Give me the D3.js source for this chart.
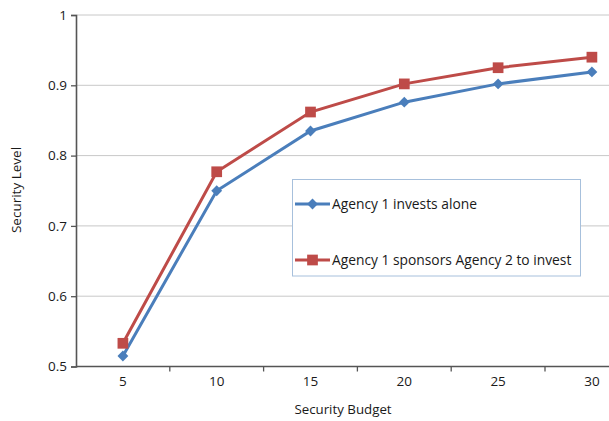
<!DOCTYPE html>
<html><head><meta charset="utf-8">
<script src="https://cdn.jsdelivr.net/npm/d3@7"></script>
<style>body{margin:0;background:#fff}svg{display:block;font-family:"Open Sans",sans-serif}</style>
</head><body>
<svg id="c" width="609" height="421"></svg>
<script>
const categories = ["5","10","15","20","25","30"];
const aloneValues = [0.515, 0.750, 0.835, 0.876, 0.902, 0.919];
const sponsorValues = [0.533, 0.777, 0.862, 0.902, 0.925, 0.940];
const yTicks = [0.5, 0.6, 0.7, 0.8, 0.9, 1];
const seriesNames = ["Agency 1 invests alone", "Agency 1 sponsors Agency 2 to invest"];

const svg = d3.select("#c");
const plotLeft = 76, plotTop = 15, plotBottom = 366.5, bandW = 93.8;
const x = d3.scaleBand().domain(categories).range([plotLeft, plotLeft + bandW*categories.length]);
const y = d3.scaleLinear().domain([0.5, 1]).range([plotBottom, plotTop]);
const textCol = "#1a1a1a";

// gridlines
svg.append("g").selectAll("line").data(yTicks.filter(d => d > 0.5)).join("line")
  .attr("x1", plotLeft).attr("x2", 609).attr("y1", d => y(d)).attr("y2", d => y(d))
  .attr("stroke", "#c8c8c8").attr("stroke-width", 1);

// y axis
const yAxis = svg.append("g").attr("transform", `translate(${plotLeft},0)`)
  .call(d3.axisLeft(y).tickValues(yTicks).tickFormat(d => d === 1 ? "1" : d3.format(".1f")(d)).tickSize(5).tickPadding(4));
yAxis.select(".domain").attr("stroke", "#555").attr("stroke-width", 1.6);
yAxis.selectAll(".tick line").attr("stroke", "#555").attr("stroke-width", 1.3);
yAxis.selectAll("text").attr("font-size", 13.5).attr("fill", textCol).attr("font-family", "Open Sans").attr("font-weight", 500);

// x axis
const xAxis = svg.append("g").attr("transform", `translate(0,${plotBottom})`)
  .call(d3.axisBottom(x).tickSize(0).tickPadding(10));
xAxis.select(".domain").remove();
xAxis.selectAll("text").attr("font-size", 13.5).attr("fill", textCol).attr("font-family", "Open Sans").attr("font-weight", 500);
svg.append("line").attr("x1", plotLeft).attr("x2", 609).attr("y1", plotBottom).attr("y2", plotBottom)
  .attr("stroke", "#555").attr("stroke-width", 1.6);
svg.append("g").selectAll("line").data(categories).join("line")
  .attr("x1", d => x(d) + x.bandwidth()).attr("x2", d => x(d) + x.bandwidth())
  .attr("y1", plotBottom).attr("y2", plotBottom + 5)
  .attr("stroke", "#555").attr("stroke-width", 1.3);

// axis titles
svg.append("text").attr("x", 343).attr("y", 414).attr("text-anchor", "middle")
  .attr("font-size", 13.3).attr("font-weight", 500).attr("fill", textCol).text("Security Budget");
svg.append("text").attr("transform", "translate(21,190) rotate(-90)").attr("text-anchor", "middle")
  .attr("font-size", 13.5).attr("font-weight", 500).attr("fill", textCol).text("Security Level");

const blue = "#4a7ebb", red = "#be4b48";
const line = d3.line().x((d, i) => x(categories[i]) + x.bandwidth()/2).y(d => y(d));

svg.append("path").datum(aloneValues).attr("d", line).attr("fill", "none").attr("stroke", blue).attr("stroke-width", 3);
svg.append("path").datum(sponsorValues).attr("d", line).attr("fill", "none").attr("stroke", red).attr("stroke-width", 3);

const diamond = d3.symbol().type(d3.symbolDiamond2).size(75);
const square = d3.symbol().type(d3.symbolSquare).size(115);
svg.append("g").selectAll("path").data(aloneValues).join("path")
  .attr("d", diamond).attr("fill", blue)
  .attr("transform", (d, i) => `translate(${x(categories[i]) + x.bandwidth()/2},${y(d)})`);
svg.append("g").selectAll("path").data(sponsorValues).join("path")
  .attr("d", square).attr("fill", red)
  .attr("transform", (d, i) => `translate(${x(categories[i]) + x.bandwidth()/2},${y(d)})`);

// legend
const lg = svg.append("g");
lg.append("rect").attr("x", 292.5).attr("y", 179.5).attr("width", 288).attr("height", 96.5)
  .attr("fill", "#fff").attr("stroke", "#a7c0dc").attr("stroke-width", 1);
const items = [{name: seriesNames[0], color: blue, sym: diamond, yy: 204},
               {name: seriesNames[1], color: red, sym: square, yy: 260}];
items.forEach(it => {
  lg.append("line").attr("x1", 295).attr("x2", 330).attr("y1", it.yy).attr("y2", it.yy)
    .attr("stroke", it.color).attr("stroke-width", 3);
  lg.append("path").attr("d", it.sym).attr("fill", it.color).attr("transform", `translate(312.5,${it.yy})`);
  lg.append("text").attr("x", 332).attr("y", it.yy + 5).attr("font-size", 13.8).attr("font-weight", 500)
    .attr("fill", textCol).text(it.name);
});
</script>
</body></html>
